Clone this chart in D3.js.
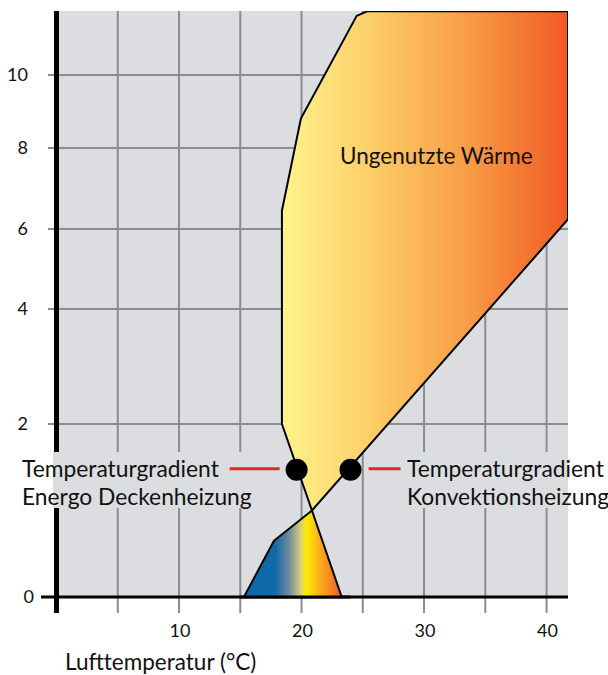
<!DOCTYPE html>
<html>
<head>
<meta charset="utf-8">
<script src="https://cdn.jsdelivr.net/npm/d3@7"></script>
<style>
  body { margin: 0; background: #fff; }
  text { font-family: Lato, "Noto Sans", sans-serif; fill: #111; }
</style>
</head>
<body>
<div id="chart"></div>
<script>
// chart values
var gridX = [5, 10, 15, 20, 25, 30, 35, 40];
var xTickLabels = [10, 20, 30, 40];
var yTicks = [0, 2, 4, 6, 8, 10];

// "Ungenutzte Wärme" area (x = air temperature, y = height)
var unusedHeat = [[18.4, 2.0], [18.4, 6.45], [19.95, 8.81], [24.5, 11.62], [25.4, 11.75],
                  [41.75, 11.75], [41.75, 6.24], [20.85, 1.0]];
// comfort zone at the floor
var comfortZone = [[15.3, 0], [17.75, 0.65], [20.85, 1.0], [23.28, 0]];

var gradientDots = [
  {x: 19.6, y: 1.47, side: 'left', lines: ['Temperaturgradient', 'Energo Deckenheizung']},
  {x: 24.0, y: 1.47, side: 'right', lines: ['Temperaturgradient', 'Konvektionsheizung']}
];

var svgWidth = 608;
var svgHeight = 675;

var plot = {left: 56.5, right: 568, top: 11, bottom: 597};

var svg = d3.select('#chart')
            .append('svg')
            .attr('width', svgWidth)
            .attr('height', svgHeight);

var x = d3.scaleLinear()
          .domain([0, 41.75])
          .range([plot.left, plot.right]);

// the y axis of the original is not linear, so use a piecewise scale
var y = d3.scaleLinear()
          .domain(yTicks)
          .range([597, 424, 309, 229, 148, 75]);

var defs = svg.append('defs');

var warm = defs.append('linearGradient')
               .attr('id', 'warm')
               .attr('gradientUnits', 'userSpaceOnUse')
               .attr('x1', x(18.4)).attr('x2', x(41.75))
               .attr('y1', 0).attr('y2', 0);
[[0, '#fff38c'], [0.3, '#fdcf69'], [0.65, '#f89c45'], [1, '#f15a24']].forEach(function(s) {
  warm.append('stop').attr('offset', s[0]).attr('stop-color', s[1]);
});

var comfort = defs.append('linearGradient')
                  .attr('id', 'comfort')
                  .attr('gradientUnits', 'userSpaceOnUse')
                  .attr('x1', x(15.3)).attr('x2', x(23.28))
                  .attr('y1', 0).attr('y2', 0);
[[0, '#0b69ae'], [0.32, '#1169a8'], [0.46, '#6f8a9c'], [0.58, '#d6cf78'], [0.64, '#ffec00'],
 [0.76, '#fbb41c'], [1, '#ef5a28']].forEach(function(s) {
  comfort.append('stop').attr('offset', s[0]).attr('stop-color', s[1]);
});

defs.append('clipPath').attr('id', 'plotclip')
    .append('rect')
    .attr('x', plot.left).attr('y', plot.top)
    .attr('width', plot.right - plot.left)
    .attr('height', plot.bottom - plot.top);

// background
svg.append('rect')
   .attr('x', plot.left).attr('y', plot.top)
   .attr('width', plot.right - plot.left)
   .attr('height', plot.bottom - plot.top)
   .attr('fill', '#dcdde0');

// grid
svg.append('g').selectAll('line')
   .data(gridX)
   .enter()
   .append('line')
   .attr('x1', d => x(d)).attr('x2', d => x(d))
   .attr('y1', plot.top).attr('y2', 613)
   .attr('stroke', '#8c8c8c')
   .attr('stroke-width', 2);

svg.append('g').selectAll('line')
   .data(yTicks.slice(1))
   .enter()
   .append('line')
   .attr('x1', 48).attr('x2', plot.right)
   .attr('y1', d => y(d)).attr('y2', d => y(d))
   .attr('stroke', '#8c8c8c')
   .attr('stroke-width', 2);

// axes
svg.append('line')
   .attr('x1', x(0)).attr('x2', x(0))
   .attr('y1', plot.top).attr('y2', 613)
   .attr('stroke', '#000')
   .attr('stroke-width', 5);

svg.append('line')
   .attr('x1', 41).attr('x2', plot.right)
   .attr('y1', y(0)).attr('y2', y(0))
   .attr('stroke', '#000')
   .attr('stroke-width', 3);

// gray boxes behind the labels
svg.append('rect')
   .attr('x', 53).attr('y', 452).attr('width', 200).attr('height', 56)
   .attr('fill', '#dcdde0');
svg.append('rect')
   .attr('x', 366).attr('y', 452).attr('width', plot.right - 366).attr('height', 56)
   .attr('fill', '#dcdde0');

var line = d3.line().x(d => x(d[0])).y(d => y(d[1])).curve(d3.curveLinearClosed);

var areas = svg.append('g').attr('clip-path', 'url(#plotclip)');

areas.append('path')
     .attr('d', line(unusedHeat))
     .attr('fill', 'url(#warm)')
     .attr('stroke', '#000')
     .attr('stroke-width', 2)
     .attr('stroke-linejoin', 'round');

areas.append('path')
     .attr('d', line(comfortZone))
     .attr('fill', 'url(#comfort)')
     .attr('stroke', '#000')
     .attr('stroke-width', 2)
     .attr('stroke-linejoin', 'round');

// redraw the bottom axis over the area edges
svg.append('line')
   .attr('x1', x(15)).attr('x2', x(24))
   .attr('y1', y(0)).attr('y2', y(0))
   .attr('stroke', '#000')
   .attr('stroke-width', 3);

// dots, pointers and labels
svg.selectAll('circle')
   .data(gradientDots)
   .enter()
   .append('circle')
   .attr('cx', d => x(d.x))
   .attr('cy', d => y(d.y))
   .attr('r', 11)
   .attr('fill', '#000');

svg.selectAll('.pointer')
   .data(gradientDots)
   .enter()
   .append('line')
   .attr('class', 'pointer')
   .attr('x1', d => d.side === 'left' ? x(d.x) - 67 : x(d.x) + 18)
   .attr('x2', d => d.side === 'left' ? x(d.x) - 17 : x(d.x) + 50)
   .attr('y1', d => y(d.y) - 1)
   .attr('y2', d => y(d.y) - 1)
   .attr('stroke', '#e3262b')
   .attr('stroke-width', 3);

var labels = svg.selectAll('.dotlabel')
   .data(gradientDots)
   .enter()
   .append('text')
   .attr('class', 'dotlabel')
   .attr('font-size', '22.8px')
   .attr('x', d => d.side === 'left' ? 22 : 407)
   .attr('y', 477);

labels.selectAll('tspan')
      .data(d => d.lines.map(t => ({t: t, x: d.side === 'left' ? 22 : 407})))
      .enter()
      .append('tspan')
      .attr('x', d => d.x)
      .attr('dy', (d, i) => i === 0 ? 0 : 28)
      .text(d => d.t);

svg.append('text')
   .attr('x', 340).attr('y', 164)
   .attr('font-size', '22.5px')
   .text('Ungenutzte Wärme');

// tick labels
svg.selectAll('.xlabel')
   .data(xTickLabels)
   .enter()
   .append('text')
   .attr('class', 'xlabel')
   .attr('x', d => x(d) + 1)
   .attr('y', 637)
   .attr('text-anchor', 'middle')
   .attr('font-size', '18px')
   .text(d => d);

svg.selectAll('.ylabel')
   .data(yTicks)
   .enter()
   .append('text')
   .attr('class', 'ylabel')
   .attr('x', d => d === 0 ? 34 : 28)
   .attr('y', d => y(d) + 6)
   .attr('text-anchor', 'end')
   .attr('font-size', '18px')
   .text(d => d);

svg.append('text')
   .attr('x', 65).attr('y', 670)
   .attr('font-size', '22.5px')
   .text('Lufttemperatur (°C)');
</script>
</body>
</html>
